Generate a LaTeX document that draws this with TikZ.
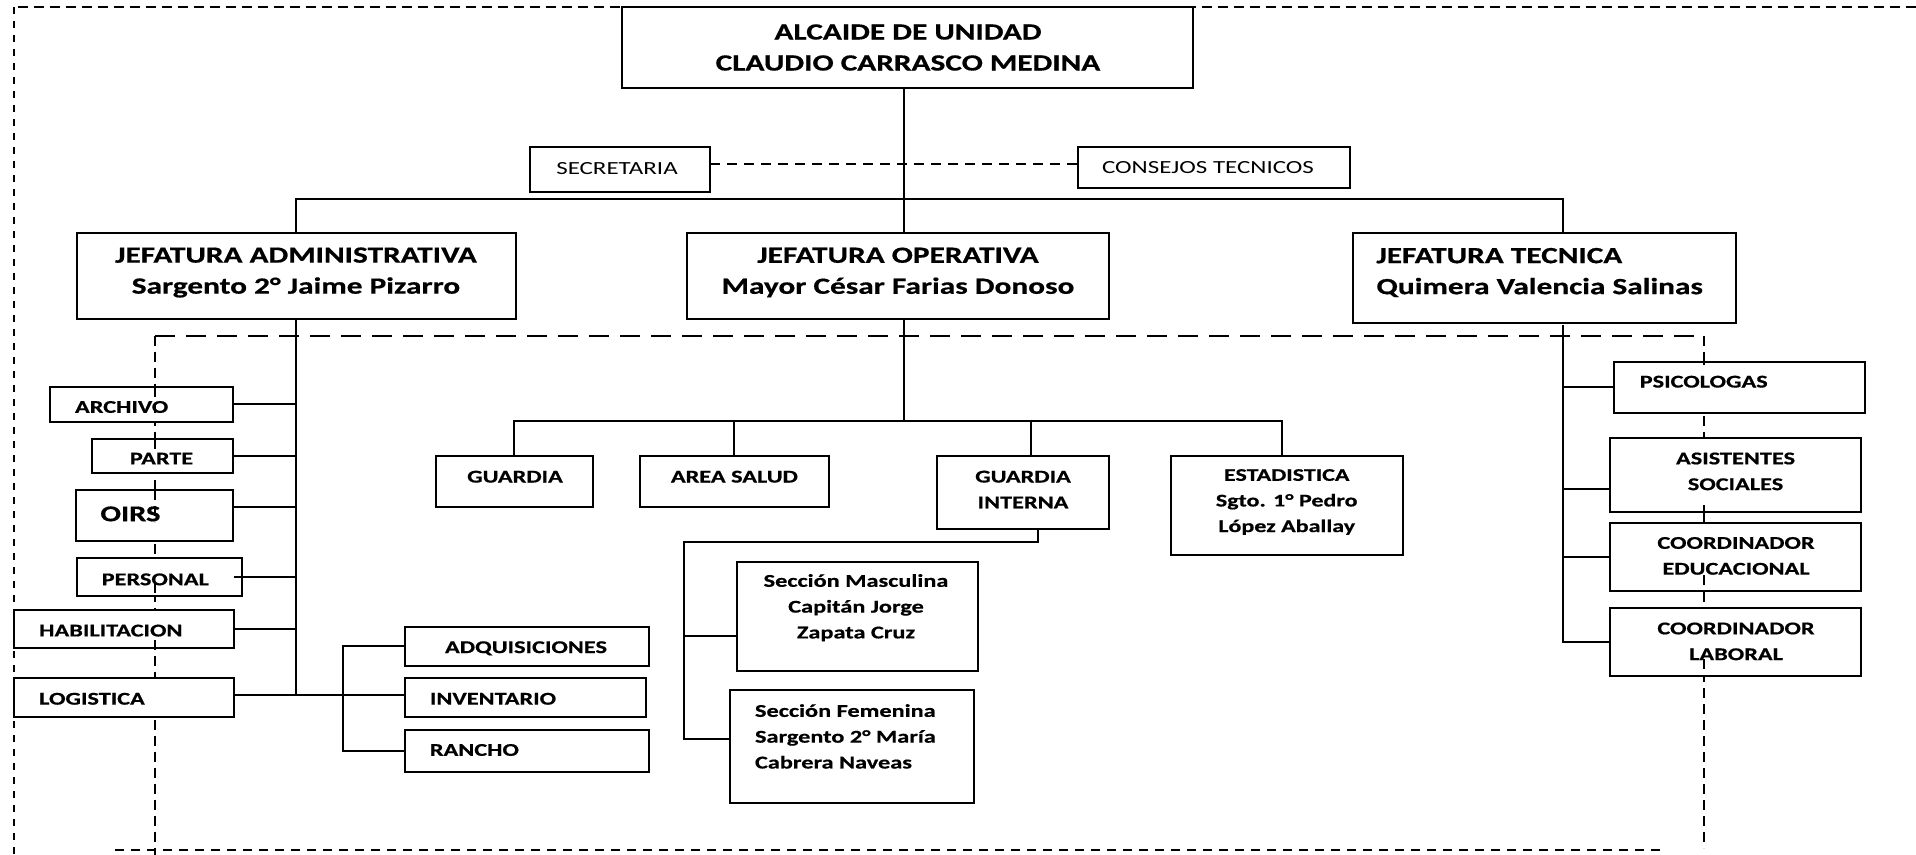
\documentclass[tikz,border=0pt]{standalone}
\usepackage{fontspec}
\setmainfont{Carlito}[FakeStretch=1.35, BoldFeatures={FakeBold=0.6}]
\usetikzlibrary{fit}
\begin{document}
\begin{tikzpicture}[x=0.5pt, y=-0.5pt,
  box/.style={draw, line width=1pt, fill=white, inner sep=0pt, outer sep=0pt},
  conn/.style={line width=1pt},
  tb/.style={font=\bfseries\fontsize{11.6}{15.5}\selectfont, inner sep=0pt, align=center},
  tbl/.style={tb, align=left},
  ts/.style={font=\bfseries\fontsize{9}{12.9}\selectfont, inner sep=0pt, align=center},
  tsl/.style={ts, align=left},
  tr/.style={font=\fontsize{9.25}{12}\selectfont, inner sep=0pt},
  dOutTop/.style={line width=1pt, dash pattern=on 5pt off 3pt},
  dOutLeft/.style={line width=1pt, dash pattern=on 3.5pt off 3.5pt},
  dInTop/.style={line width=1pt, dash pattern=on 10pt off 5.5pt},
  dInV/.style={line width=1pt, dash pattern=on 5pt off 3pt},
  dBot/.style={line width=1pt, dash pattern=on 4.5pt off 3.5pt},
  scdash/.style={line width=0.9pt, dash pattern=on 5pt off 3.5pt}
]
\fill[white] (0,0) rectangle (1916,855);
\useasboundingbox (0,0) rectangle (1916,855);

% ---------- dashed frames (behind boxes)
\coordinate (oTR) at (1916,7);
\coordinate (oTL) at (14,7);
\coordinate (oBL) at (14,855);
\draw[dOutTop] (oTR) -- (oTL);
\draw[dOutLeft] (oTL) -- (oBL);
\coordinate (iTL) at (155,336);
\coordinate (iTR) at (1703.5,336);
\coordinate (iBL) at (155,855);
\coordinate (iBR) at (1703.5,848);
\coordinate (bL) at (115,850);
\coordinate (bR) at (1664,850);
\draw[dInTop] (iTL) -- (iTR);
\draw[dInV] (iTL) -- (iBL);
\draw[dInV] (iTR) -- (iBR);
\draw[dBot] (bL) -- (bR);

% ---------- boxes
\node[box, fit={(622,7.5) (1193,88)}] (alc) {};
\node[box, fit={(530,146.7) (710,192)}] (sec) {};
\node[box, fit={(1078,147.3) (1350.4,188.3)}] (con) {};
\node[box, fit={(76.5,232.7) (515.6,318.7)}] (ja) {};
\node[box, fit={(687,232.7) (1109,318.7)}] (jo) {};
\node[box, fit={(1352.8,232.7) (1736,322.7)}] (jt) {};
\node[box, fit={(50.4,387) (233,421.7)}] (archivo) {};
\node[box, fit={(91.5,439) (232.6,472.9)}] (parte) {};
\node[box, fit={(75.9,490) (232.6,541.2)}] (oirs) {};
\node[box, fit={(76.8,558.2) (241.5,595.8)}] (personal) {};
\node[box, fit={(14.3,610) (233.5,647.6)}] (habil) {};
\node[box, fit={(14.3,678.4) (233.5,716.9)}] (logis) {};
\node[box, fit={(405,627.2) (648.7,665.7)}] (adq) {};
\node[box, fit={(405,678.4) (646,717)}] (inv) {};
\node[box, fit={(405,729.6) (648.7,772.2)}] (rancho) {};
\node[box, fit={(435.7,455.7) (592.9,507.3)}] (guardia) {};
\node[box, fit={(639.7,455.7) (828.6,507.3)}] (salud) {};
\node[box, fit={(937,455.7) (1109,529.2)}] (gi) {};
\node[box, fit={(1171.4,455.8) (1402.6,554.8)}] (est) {};
\node[box, fit={(736.7,561.6) (977.6,670.9)}] (masc) {};
\node[box, fit={(729.6,689.6) (973.5,802.6)}] (fem) {};
\node[box, fit={(1614,361.6) (1865,413.4)}] (psico) {};
\node[box, fit={(1609.7,438.4) (1860.7,512.3)}] (asis) {};
\node[box, fit={(1609.7,522.9) (1860.7,591.2)}] (ceduc) {};
\node[box, fit={(1609.7,608.1) (1860.7,676)}] (clab) {};

% ---------- dashed pieces that show over the boxes
\draw[dInV] (155,387) -- (155,418);
\draw[dInV] (155,439) -- (155,452);
\draw[dInV] (155,490) -- (155,522);
\draw[dInV] (155,583) -- (155,600);
\draw[dInV] (155,640) -- (155,655);
\draw[dInV] (1703.5,355) -- (1703.5,368);
\draw[dInV] (1703.5,505) -- (1703.5,524);
\draw[dInV] (1703.5,575) -- (1703.5,606);
\draw[dInV] (1703.5,659) -- (1703.5,676);

% ---------- connectors
\coordinate (xA) at (904,0);
\coordinate (yBar) at (0,199);
\coordinate (xJA) at (296,0);
\coordinate (xJT) at (1563,0);
\coordinate (ySC) at (0,164);
\draw[conn] (alc.south -| xA) -- (jo.north -| xA);
\draw[conn] (ja.north -| xJA) -- (yBar -| xJA) -- (yBar -| xJT) -- (jt.north -| xJT);
\draw[scdash] (ySC -| sec.east) -- (ySC -| con.west);

% administrative branch
\coordinate (yLog) at (0,695.4);
\coordinate (yOirs) at (0,507);
\coordinate (xLB) at (342.9,0);
\draw[conn] (ja.south -| xJA) -- (yLog -| xJA);
\draw[conn] (archivo.east) -- (archivo.east -| xJA);
\draw[conn] (parte.east) -- (parte.east -| xJA);
\draw[conn] (yOirs -| oirs.east) -- (yOirs -| xJA);
\draw[conn] ([xshift=-4pt]personal.east) -- (personal.east -| xJA);
\draw[conn] (habil.east) -- (habil.east -| xJA);
\draw[conn] (yLog -| logis.east) -- (yLog -| inv.west);
\draw[conn] (adq.west) -| (xLB |- rancho.west) -- (rancho.west);

% operative branch
\coordinate (yOB) at (0,421);
\coordinate (xGI) at (1031.3,0);
\coordinate (xE) at (1281.6,0);
\draw[conn] (jo.south -| xA) -- (yOB -| xA);
\draw[conn] (guardia.north) -- (guardia.north |- yOB) -- (yOB -| xE) -- (est.north -| xE);
\draw[conn] (salud.north) -- (salud.north |- yOB);
\draw[conn] (gi.north -| xGI) -- (yOB -| xGI);
\coordinate (xGId) at (1038,0);
\coordinate (yGI) at (0,542.4);
\coordinate (xSec) at (684,0);
\coordinate (yFem) at (0,739.1);
\coordinate (yMasc) at (0,636.4);
\draw[conn] (gi.south -| xGId) -- (yGI -| xGId) -- (yGI -| xSec) -- (yFem -| xSec) -- (yFem -| fem.west);
\draw[conn] (yMasc -| xSec) -- (yMasc -| masc.west);

% technical branch
\coordinate (yJT0) at (0,325);
\coordinate (yAsi) at (0,489);
\draw[conn] (yJT0 -| xJT) -- (xJT |- clab.west) -- (clab.west);
\draw[conn] (xJT |- psico.west) -- (psico.west);
\draw[conn] (yAsi -| xJT) -- (yAsi -| asis.west);
\draw[conn] (xJT |- ceduc.west) -- (ceduc.west);

% ---------- texts
\node[tb] (t-alc) at (908,47.5) {ALCAIDE DE UNIDAD\\CLAUDIO CARRASCO MEDINA};
\node[tb] (t-ja) at (296,272.5) {JEFATURA ADMINISTRATIVA\\Sargento 2° Jaime Pizarro};
\node[tb] (t-jo) at (898,272.5) {JEFATURA OPERATIVA\\Mayor César Farias Donoso};
\node[tbl, anchor=west] (t-jt) at (1376,272.5) {JEFATURA TECNICA\\Quimera Valencia Salinas};
\node[tr] (t-sec) at (617,168.5) {SECRETARIA};
\node[tr] (t-con) at (1208,168) {CONSEJOS TECNICOS};
\node[ts, anchor=west] (t-arch) at (74.6,407) {ARCHIVO};
\node[ts, anchor=west] (t-parte) at (129.5,458.6) {PARTE};
\node[ts, anchor=west, font=\bfseries\fontsize{11.3}{14}\selectfont] (t-oirs) at (100,513.9) {OIRS};
\node[ts, anchor=west] (t-pers) at (101.3,579.4) {PERSONAL};
\node[ts, anchor=west] (t-hab) at (38.8,630.6) {HABILITACION};
\node[ts, anchor=west] (t-log) at (38.8,698.8) {LOGISTICA};
\node[ts] (t-adq) at (526,648.3) {ADQUISICIONES};
\node[ts, anchor=west] (t-inv) at (429.5,698.8) {INVENTARIO};
\node[ts, anchor=west] (t-ran) at (429.5,750) {RANCHO};
\node[ts] (t-gua) at (515,476.7) {GUARDIA};
\node[ts] (t-sal) at (734.4,476.7) {AREA SALUD};
\node[ts] (t-gi) at (1023,489.5) {GUARDIA\\INTERNA};
\node[ts, font=\bfseries\fontsize{8.9}{12.8}\selectfont] (t-est) at (1286.7,502) {ESTADISTICA\\Sgto. 1° Pedro\\López Aballay};
\node[ts] (t-masc) at (856,607.7) {Sección Masculina\\Capitán Jorge\\Zapata Cruz};
\node[tsl, anchor=west] (t-fem) at (754.6,736.4) {Sección Femenina\\Sargento 2° María\\Cabrera Naveas};
\node[ts, anchor=west] (t-psi) at (1639.3,381.7) {PSICOLOGAS};
\node[ts] (t-asi) at (1735.5,471.4) {ASISTENTES\\SOCIALES};
\node[ts] (t-ced) at (1736,555.9) {COORDINADOR\\EDUCACIONAL};
\node[ts] (t-cla) at (1736,641.4) {COORDINADOR\\LABORAL};
\end{tikzpicture}
\end{document}
